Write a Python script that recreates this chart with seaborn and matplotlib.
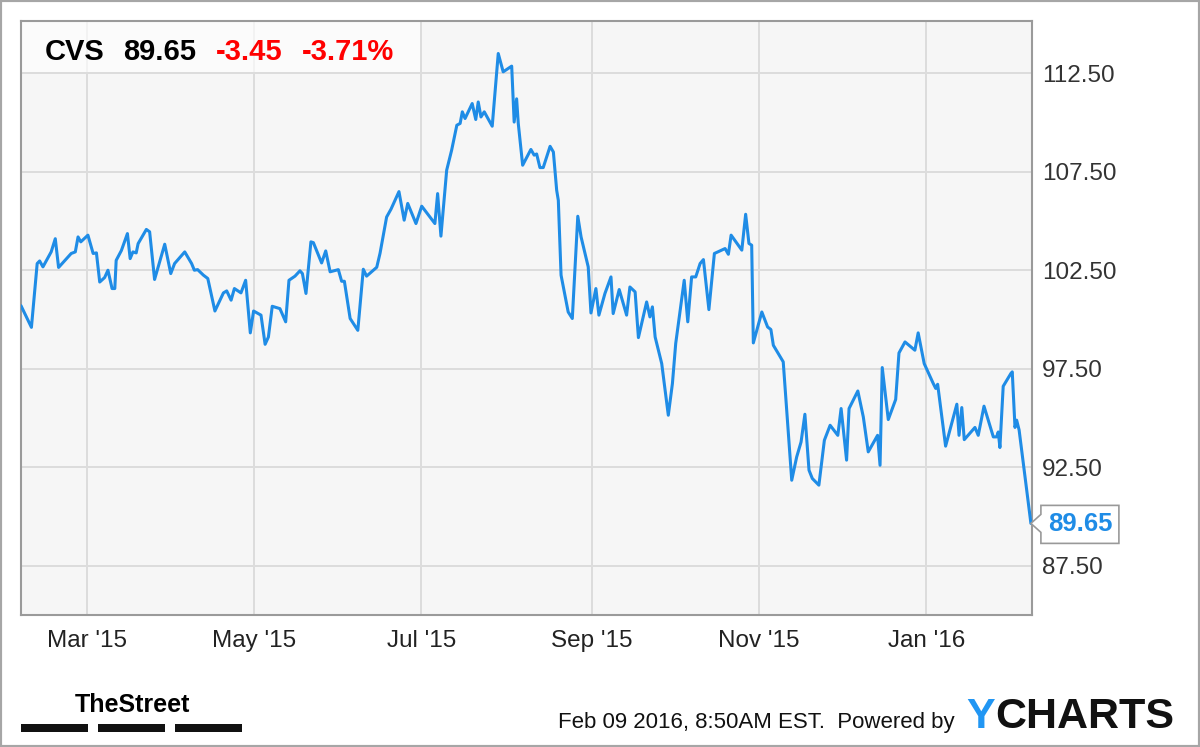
import numpy as np
import pandas as pd
import matplotlib
matplotlib.use("Agg")
import matplotlib.pyplot as plt
import matplotlib.dates as mdates
import matplotlib.ticker as mticker
import matplotlib.transforms as mtransforms
from matplotlib.patches import Rectangle, Polygon
from matplotlib import font_manager
import seaborn as sns

# CVS daily close (days counted from 2015-02-05)
start_date = "2015-02-05"
day_offset = [
    0.0, 3.8, 5.9, 6.8, 8.0, 11.0, 12.5, 13.7, 18.3, 19.8,
    20.8, 21.8, 24.4, 26.3, 27.5, 28.7, 30.5, 31.7, 33.2, 34.2,
    34.7, 36.6, 38.8, 39.8, 40.8, 42.0, 42.7, 45.7, 46.9, 48.7,
    52.4, 54.6, 56.0, 59.7, 62.2, 63.2, 64.4, 66.5, 68.1, 70.7,
    73.8, 75.0, 76.6, 77.8, 80.2, 81.9, 83.6, 84.8, 87.5, 89.0,
    90.2, 91.6, 94.4, 96.5, 97.7, 99.9, 101.7, 102.6, 103.9, 105.7,
    106.6, 109.6, 111.1, 112.7, 115.7, 116.9, 117.9, 120.0, 122.8, 124.8,
    126.0, 129.7, 130.9, 133.3, 134.9, 137.8, 139.7, 141.0, 144.0, 146.1,
    150.9, 151.9, 153.1, 155.2, 157.0, 158.9, 160.1, 160.9, 161.9, 164.5,
    165.8, 166.7, 167.7, 168.9, 171.8, 174.0, 175.8, 178.9, 179.8, 180.7,
    181.3, 182.9, 185.9, 187.1, 188.0, 189.2, 190.4, 192.9, 194.1, 195.3,
    195.9, 196.9, 199.5, 201.0, 203.0, 204.2, 206.8, 207.8, 209.6, 210.7,
    212.9, 215.1, 215.9, 218.1, 220.8, 222.0, 223.9, 225.1, 228.1, 229.3,
    230.2, 231.2, 233.6, 236.0, 237.5, 238.7, 241.8, 243.1, 244.5, 246.0,
    247.6, 248.8, 250.8, 252.8, 256.7, 257.9, 258.9, 262.8, 264.2, 265.4,
    266.4, 267.0, 270.1, 272.2, 273.4, 274.3, 277.9, 281.0, 282.8, 284.4,
    285.8, 287.3, 288.5, 290.9, 292.9, 295.0, 297.8, 299.0, 301.0, 301.9,
    305.1, 307.1, 308.9, 312.3, 313.2, 314.0, 316.2, 318.9, 320.1, 322.3,
    325.9, 327.1, 329.3, 332.6, 333.5, 334.2, 337.1, 341.2, 342.0, 343.0,
    343.9, 347.8, 349.0, 351.1, 354.5, 355.7, 356.3, 356.9, 358.1, 360.9,
    361.4, 362.4, 363.0, 363.9, 368.2,
]
price = [
    100.70, 99.60, 102.84, 102.97, 102.67, 103.43, 104.10, 102.64, 103.35, 103.43,
    104.19, 103.94, 104.28, 103.35, 103.38, 101.90, 102.13, 102.50, 101.57, 101.57,
    103.00, 103.50, 104.36, 103.09, 103.43, 103.38, 103.85, 104.57, 104.45, 102.03,
    103.82, 102.33, 102.84, 103.43, 102.84, 102.50, 102.53, 102.25, 102.08, 100.43,
    101.35, 101.45, 100.98, 101.57, 101.35, 101.99, 99.32, 100.43, 100.22, 98.74,
    99.11, 100.67, 100.55, 99.88, 101.99, 102.20, 102.47, 102.33, 101.32, 103.94,
    103.90, 102.87, 103.48, 102.42, 102.53, 101.94, 101.94, 100.05, 99.45, 102.55,
    102.20, 102.65, 103.36, 105.20, 105.60, 106.49, 105.04, 105.89, 104.87, 105.75,
    104.87, 106.39, 104.23, 107.58, 108.59, 109.86, 109.95, 110.54, 110.20, 110.96,
    110.15, 111.04, 110.28, 110.54, 109.81, 113.50, 112.57, 112.86, 110.02, 111.20,
    109.95, 107.83, 108.63, 108.34, 108.40, 107.71, 107.71, 108.79, 108.50, 106.56,
    106.05, 102.25, 100.38, 100.05, 105.24, 104.19, 102.67, 100.33, 101.57, 100.22,
    101.32, 102.16, 100.30, 101.52, 100.22, 101.65, 101.40, 99.08, 100.89, 100.13,
    100.64, 99.11, 97.76, 95.14, 96.75, 98.78, 101.99, 99.88, 102.16, 102.16,
    102.84, 103.04, 100.50, 103.35, 103.60, 103.31, 104.28, 103.52, 105.34, 103.86,
    103.77, 98.81, 100.38, 99.62, 99.49, 98.69, 97.85, 91.84, 93.02, 93.78,
    95.19, 92.35, 91.93, 91.59, 93.87, 94.63, 94.12, 95.48, 92.86, 95.48,
    96.37, 95.05, 93.28, 94.12, 92.60, 97.56, 94.92, 95.94, 98.30, 98.86,
    98.44, 99.32, 97.76, 96.75, 96.50, 96.71, 93.57, 95.70, 94.12, 95.53,
    93.90, 94.52, 94.12, 95.60, 94.04, 94.04, 94.29, 93.50, 96.61, 97.26,
    97.34, 94.52, 94.89, 94.39, 89.65,
]
y_ticks = [87.5, 92.5, 97.5, 102.5, 107.5, 112.5]

ticker_name = "CVS"
last_price = "89.65"
change = "-3.45"
change_pct = "-3.71%"
stamp = "Feb 09 2016, 8:50AM EST.  Powered by"

line_blue = "#1f8ce6"

sns.set_theme(style="whitegrid")
plt.rcParams["font.family"] = ["Liberation Sans", "DejaVu Sans"]

installed = {f.name for f in font_manager.fontManager.ttflist}

df = pd.DataFrame({
    "date": pd.Timestamp(start_date) + pd.to_timedelta(day_offset, unit="D"),
    "price": price,
})

fig = plt.figure(figsize=(12, 7.47), dpi=100)
fig.patch.set_facecolor("white")
ax = fig.add_axes([21 / 1200, 1 - 615 / 747, 1011 / 1200, 594 / 747])
ax.set_facecolor("#f6f6f6")

sns.lineplot(data=df, x="date", y="price", color=line_blue, lw=2.2, ax=ax, zorder=3)

ax.set_xlim(pd.Timestamp(start_date), pd.Timestamp(start_date) + pd.Timedelta(days=368.6))
ax.set_ylim(85.0, 115.15)
ax.set_xlabel("")
ax.set_ylabel("")

ax.yaxis.tick_right()
ax.set_yticks(y_ticks)
ax.yaxis.set_major_formatter(mticker.FormatStrFormatter("%.2f"))
ax.xaxis.set_major_locator(mdates.MonthLocator(bymonth=[1, 3, 5, 7, 9, 11]))
ax.xaxis.set_major_formatter(mdates.DateFormatter("%b '%y"))
ax.tick_params(axis="y", length=0, pad=7, labelsize=17.5, labelcolor="#333333")
ax.tick_params(axis="x", length=0, pad=11, labelsize=17.5, labelcolor="#222222")

ax.grid(True, color="#dcdcdc", lw=1.4)
for side in ["left", "right", "top", "bottom"]:
    ax.spines[side].set_visible(True)
    ax.spines[side].set_color("#9a9a9a")
    ax.spines[side].set_linewidth(1.5)

# light header band behind the quote text
ax.add_patch(Rectangle((0, 0.914), 0.395, 0.086, transform=ax.transAxes,
                       facecolor="white", alpha=0.65, lw=0, zorder=1))

# quote header
fig.text(45 / 1200, 1 - 60 / 747, ticker_name, fontsize=21, fontweight="bold", color="black")
fig.text(122.7 / 1200, 1 - 60 / 747, last_price, fontsize=21, fontweight="bold", color="black")
fig.text(216 / 1200, 1 - 60 / 747, change, fontsize=21, fontweight="bold", color="#ff0000")
fig.text(301.7 / 1200, 1 - 60 / 747, change_pct, fontsize=21, fontweight="bold", color="#ff0000")

# last price callout box
fig.canvas.draw()
tx, ty = ax.transData.transform((mdates.date2num(df["date"].iloc[-1]), df["price"].iloc[-1]))
x0, x1 = tx + 10, tx + 88
box = Polygon([(tx, ty), (x0, ty + 9), (x0, ty + 18), (x1, ty + 18), (x1, ty - 20),
               (x0, ty - 20), (x0, ty - 9)], closed=True, facecolor="white",
              edgecolor="#999999", lw=1.2, transform=mtransforms.IdentityTransform(),
              zorder=5)
fig.add_artist(box)
fig.text((x0 + x1) / 2, ty - 1, last_price, transform=mtransforms.IdentityTransform(),
         ha="center", va="center", fontsize=18.5, fontweight="bold", color=line_blue,
         zorder=6)

# footer: TheStreet logo
if "Liberation Sans Narrow" in installed:
    fig.text(75 / 1200, 1 - 711.7 / 747, "TheStreet", fontsize=21, fontweight="bold",
             color="black", family=["Liberation Sans Narrow", "Liberation Sans"])
else:
    fig.text(75 / 1200, 1 - 711.7 / 747, "TheStreet", fontsize=18, fontweight="bold",
             color="black")
for bx0, bx1 in [(21, 88), (98, 164.5), (174.5, 242)]:
    fig.add_artist(Rectangle((bx0 / 1200, 1 - 732 / 747), (bx1 - bx0) / 1200, 8 / 747,
                             transform=fig.transFigure, facecolor="#111111", lw=0))

# footer: timestamp and YCHARTS
fig.text(558 / 1200, 1 - 728 / 747, stamp, fontsize=16, color="#111111")
fig.text(966 / 1200, 1 - 728 / 747, "Y", fontsize=31, fontweight="bold", color="#2196f3")
fig.text(995 / 1200, 1 - 728 / 747, "CHARTS", fontsize=31, fontweight="bold", color="#111111")

# outer frame
fig.add_artist(Rectangle((0, 0), 1, 1, transform=fig.transFigure, fill=False,
                         edgecolor="#a6a6a6", lw=3))

fig.savefig("out.png", dpi=100)
